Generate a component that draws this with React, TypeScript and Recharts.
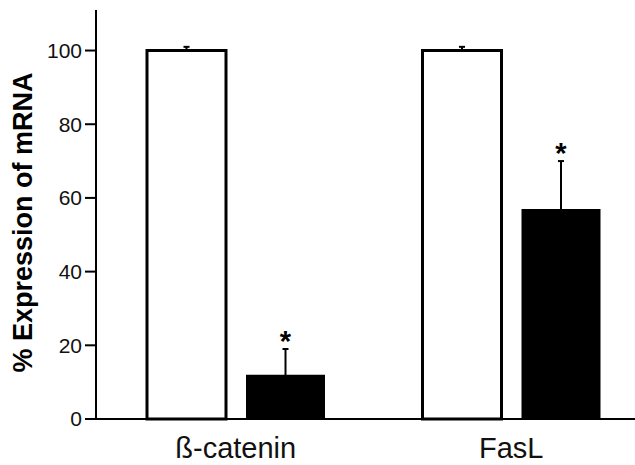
import { ComposedChart, Bar, XAxis, YAxis, ErrorBar, LabelList, Label } from 'recharts'

const genes = ['ß-catenin', 'FasL']
const controlPct = [100, 100]
const controlSem = [1, 1]
const treatedPct = [12, 57]
const treatedSem = [7, 13]
const yTicks = [0, 20, 40, 60, 80, 100]

const data = genes.map((gene, i) => ({
  gene,
  control: controlPct[i],
  controlErr: [0, controlSem[i]],
  treated: treatedPct[i],
  treatedErr: treatedSem[i],
}))

const font = '"Liberation Sans", Arial, Helvetica, sans-serif'

// asterisk sits just above the top whisker of the treated bar
const Star = (props: any) => {
  const { x, y, width, height, value, index } = props
  const perUnit = height / value
  const top = y - treatedSem[index] * perUnit
  return (
    <text x={x + width / 2} y={top + 2} textAnchor="middle" fontSize={29} fontWeight="bold" fill="#000" fontFamily={font}>
      *
    </text>
  )
}

const YTitle = (props: any) => {
  const vb = props.viewBox
  const cx = vb.x + 23
  const cy = vb.y + vb.height / 2 + 8
  return (
    <text
      x={cx}
      y={cy}
      transform={`rotate(-90 ${cx} ${cy})`}
      textAnchor="middle"
      dominantBaseline="central"
      fontSize={27}
      fontWeight="bold"
      fill="#000"
      fontFamily={font}
    >
      % Expression of mRNA
    </text>
  )
}

export default function App() {
  return (
    <div style={{ position: 'absolute', left: 0, top: 0, width: 635, height: 465, overflow: 'hidden', background: '#fff' }}>
      <ComposedChart
        width={660}
        height={465}
        data={data}
        margin={{ top: 10, right: 11, bottom: 0, left: 0 }}
        barGap={20}
      >
        <XAxis
          dataKey="gene"
          height={46}
          padding={{ left: 2, right: 0 }}
          tickLine={false}
          tickSize={0}
          tickMargin={18}
          axisLine={{ stroke: '#000', strokeWidth: 2 }}
          tick={{ fontSize: 29, fill: '#111', fontFamily: font }}
        />
        <YAxis
          width={96}
          domain={[0, 111]}
          ticks={yTicks}
          tickSize={11}
          tickMargin={3}
          axisLine={{ stroke: '#000', strokeWidth: 2 }}
          tickLine={{ stroke: '#000', strokeWidth: 2 }}
          tick={{ fontSize: 21, fill: '#111', fontFamily: font }}
        >
          <Label content={<YTitle />} />
        </YAxis>
        <Bar dataKey="control" fill="#fff" stroke="#000" strokeWidth={3} barSize={79} isAnimationActive={false}>
          <ErrorBar dataKey="controlErr" direction="y" width={3} stroke="#000" strokeWidth={2} />
        </Bar>
        <Bar dataKey="treated" fill="#000" barSize={79} isAnimationActive={false}>
          <ErrorBar dataKey="treatedErr" direction="y" width={3} stroke="#000" strokeWidth={2} />
          <LabelList dataKey="treated" content={<Star />} />
        </Bar>
      </ComposedChart>
    </div>
  )
}
